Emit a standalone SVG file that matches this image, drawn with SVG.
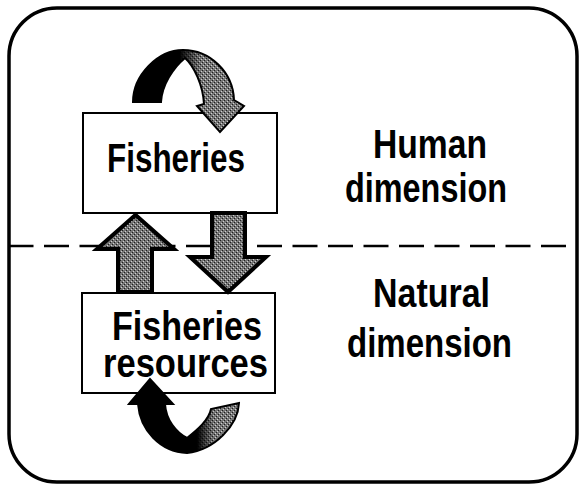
<svg xmlns="http://www.w3.org/2000/svg" width="583" height="489" viewBox="0 0 583 489">
<style>
.frame{fill:#fff;stroke:#000;stroke-width:3.5}
.box{fill:#fff;stroke:#000;stroke-width:2}
.lbl{font-family:"Liberation Sans",Arial,Helvetica,sans-serif;font-weight:bold;font-size:40px;fill:#000}
.arr{fill:url(#stip);stroke:#000;stroke-width:4;stroke-linejoin:miter}
.curve{fill:url(#stip);stroke:#000;stroke-width:2;stroke-linejoin:miter}
.dash{stroke:#000;stroke-width:2.5;stroke-dasharray:25 10.5;fill:none}
</style>
<defs>
<pattern id="stip" width="4" height="4" patternUnits="userSpaceOnUse">
<rect width="4" height="4" fill="#767676"/>
<rect x="0" y="0" width="1" height="1" fill="#1e1e1e"/>
<rect x="2" y="2" width="1" height="1" fill="#1e1e1e"/>
<rect x="1" y="3" width="1" height="1" fill="#d0d0d0"/>
<rect x="3" y="1" width="1" height="1" fill="#d0d0d0"/>
</pattern>
<linearGradient id="gTop" gradientUnits="userSpaceOnUse" x1="133" y1="0" x2="244" y2="0">
<stop offset="0" stop-color="#000" stop-opacity="1"/>
<stop offset="0.42" stop-color="#000" stop-opacity="1"/>
<stop offset="0.62" stop-color="#000" stop-opacity="0"/>
</linearGradient>
<linearGradient id="gBot" gradientUnits="userSpaceOnUse" x1="129" y1="0" x2="239" y2="0">
<stop offset="0" stop-color="#000" stop-opacity="1"/>
<stop offset="0.62" stop-color="#000" stop-opacity="1"/>
<stop offset="0.78" stop-color="#000" stop-opacity="0"/>
</linearGradient>
</defs>

<rect class="frame" x="9" y="8" width="568" height="474" rx="48" ry="48"/>

<line class="dash" x1="8.5" y1="246" x2="574" y2="246"/>

<g id="node-fisheries">
<rect class="box" x="83" y="113" width="194" height="100"/>
<text class="lbl" x="107" y="172" textLength="138" lengthAdjust="spacingAndGlyphs">Fisheries</text>
</g>

<g id="node-resources">
<rect class="box" x="82" y="293" width="193" height="100"/>
<text class="lbl" x="112" y="340" textLength="150" lengthAdjust="spacingAndGlyphs">Fisheries</text>
<text class="lbl" x="103" y="377" textLength="165" lengthAdjust="spacingAndGlyphs">resources</text>
</g>

<g id="connectors">
<path class="arr" d="M118,292 L118,249 L97,249 L135.5,215 L174,249 L152,249 L152,292 Z"/>
<path class="arr" d="M212,213 L212,257 L190,257 L228,292 L266,257 L245,257 L245,213 Z"/>
<path class="curve" d="M133,102 C133,75 158,50 183,50 C210,50 233,72 234,100 L244,106 L220,132 L197,106 L204,104 C203,85 194,66 185,58 C173,68 162,85 161,102 Z"/>
<path d="M133,102 C133,75 158,50 183,50 C210,50 233,72 234,100 L244,106 L220,132 L197,106 L204,104 C203,85 194,66 185,58 C173,68 162,85 161,102 Z" fill="url(#gTop)"/>
<path class="curve" d="M129,404 L150,379 L173,404 L165,404 C166,420 176,432 187,438 C197,430 209,420 211,409 L239,403 C238,425 215,450 187,453 C160,452 140,430 138,404 Z"/>
<path d="M129,404 L150,379 L173,404 L165,404 C166,420 176,432 187,438 C197,430 209,420 211,409 L239,403 C238,425 215,450 187,453 C160,452 140,430 138,404 Z" fill="url(#gBot)"/>
</g>

<g id="label-human">
<text class="lbl" x="373" y="158" textLength="114" lengthAdjust="spacingAndGlyphs">Human</text>
<text class="lbl" x="345" y="202" textLength="162" lengthAdjust="spacingAndGlyphs">dimension</text>
</g>
<g id="label-natural">
<text class="lbl" x="373" y="307" textLength="117" lengthAdjust="spacingAndGlyphs">Natural</text>
<text class="lbl" x="347" y="357" textLength="165" lengthAdjust="spacingAndGlyphs">dimension</text>
</g>
</svg>
